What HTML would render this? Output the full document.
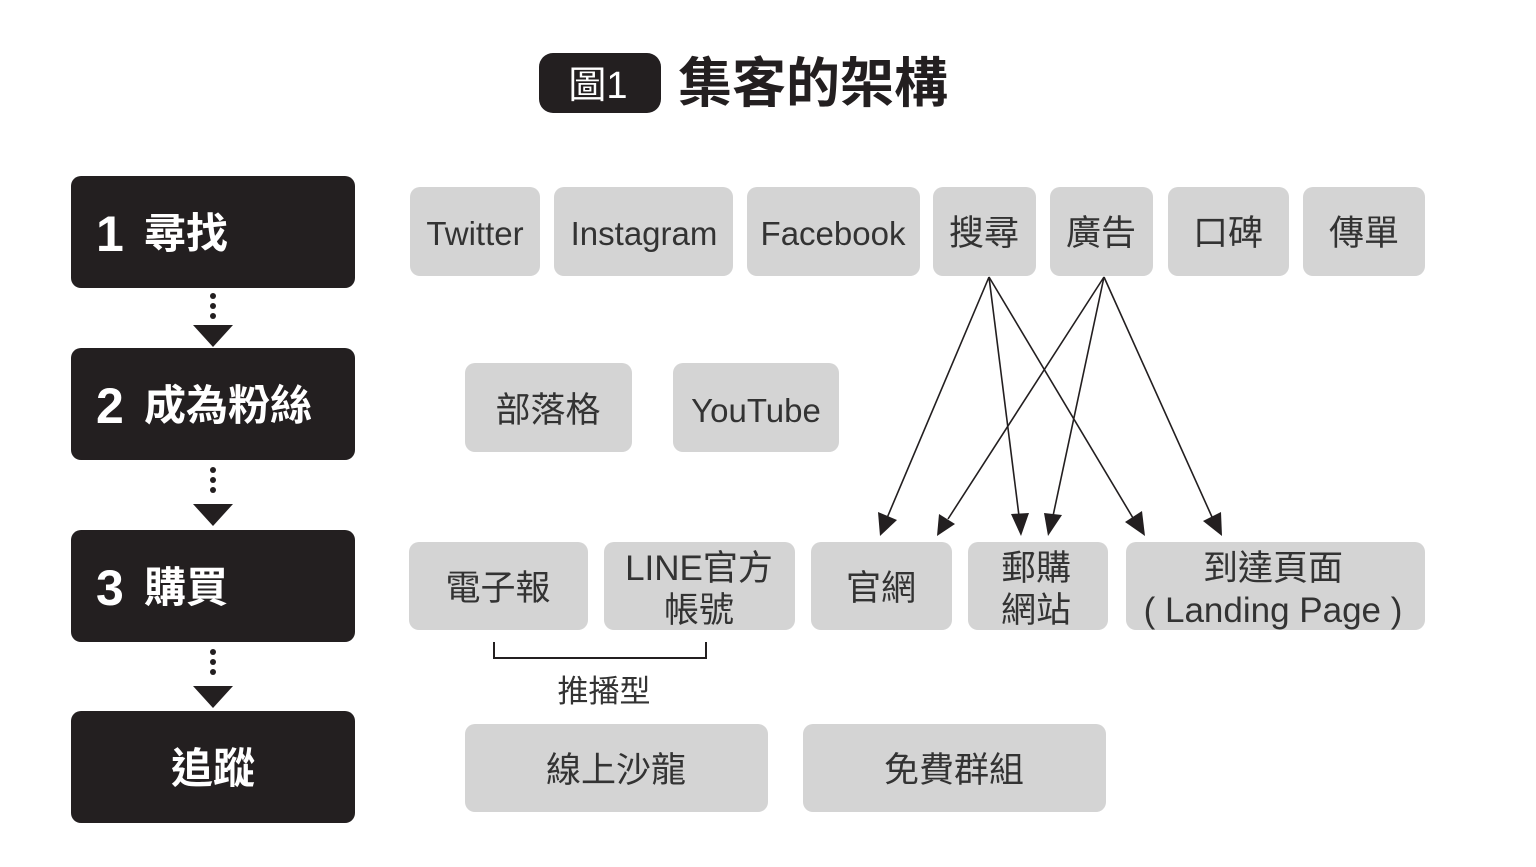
<!DOCTYPE html>
<html><head><meta charset="utf-8"><style>
body{margin:0;background:#fff;}
svg text{font-family:"Liberation Sans","Noto Sans CJK TC",sans-serif;}
</style></head><body>
<svg width="1536" height="862" viewBox="0 0 1536 862" xmlns="http://www.w3.org/2000/svg">
<rect x="539" y="53" width="122" height="60" rx="14" fill="#231f20"/>
<text x="598" y="98" font-size="38" fill="#fff" text-anchor="middle">圖1</text>
<text x="813" y="102" font-size="54" fill="#231f20" text-anchor="middle" font-weight="bold">集客的架構</text>
<g fill="#231f20">
<rect x="71" y="176" width="284" height="112" rx="10"/>
<rect x="71" y="348" width="284" height="112" rx="10"/>
<rect x="71" y="530" width="284" height="112" rx="10"/>
<rect x="71" y="711" width="284" height="112" rx="10"/>
<circle cx="213" cy="296" r="3"/><circle cx="213" cy="306" r="3"/><circle cx="213" cy="316" r="3"/>
<path d="M193,325 L233,325 L213,347Z"/>
<circle cx="213" cy="470" r="3"/><circle cx="213" cy="480" r="3"/><circle cx="213" cy="490" r="3"/>
<path d="M193,504 L233,504 L213,526Z"/>
<circle cx="213" cy="652" r="3"/><circle cx="213" cy="662" r="3"/><circle cx="213" cy="672" r="3"/>
<path d="M193,686 L233,686 L213,708Z"/>
</g>
<g fill="#fff" font-weight="bold">
<text x="96" y="251" font-size="50">1</text><text x="144" y="248" font-size="42">尋找</text>
<text x="96" y="423" font-size="50">2</text><text x="144" y="420" font-size="42">成為粉絲</text>
<text x="96" y="605" font-size="50">3</text><text x="144" y="602" font-size="42">購買</text>
<text x="213" y="783" text-anchor="middle" font-size="42">追蹤</text>
</g>
<g fill="#d4d4d4">
<rect x="410" y="187" width="130" height="89" rx="10"/>
<rect x="554" y="187" width="179" height="89" rx="10"/>
<rect x="747" y="187" width="173" height="89" rx="10"/>
<rect x="933" y="187" width="103" height="89" rx="10"/>
<rect x="1050" y="187" width="103" height="89" rx="10"/>
<rect x="1168" y="187" width="121" height="89" rx="10"/>
<rect x="1303" y="187" width="122" height="89" rx="10"/>
<rect x="465" y="363" width="167" height="89" rx="10"/>
<rect x="673" y="363" width="166" height="89" rx="10"/>
<rect x="409" y="542" width="179" height="88" rx="10"/>
<rect x="604" y="542" width="191" height="88" rx="10"/>
<rect x="811" y="542" width="141" height="88" rx="10"/>
<rect x="968" y="542" width="140" height="88" rx="10"/>
<rect x="1126" y="542" width="299" height="88" rx="10"/>
<rect x="465" y="724" width="303" height="88" rx="10"/>
<rect x="803" y="724" width="303" height="88" rx="10"/>
</g>
<g fill="#333" font-size="35" text-anchor="middle">
<text x="475" y="245" font-size="33">Twitter</text>
<text x="644" y="245" font-size="33">Instagram</text>
<text x="833" y="245" font-size="33">Facebook</text>
<text x="984" y="245">搜尋</text>
<text x="1101" y="245">廣告</text>
<text x="1228" y="245">口碑</text>
<text x="1364" y="245">傳單</text>
<text x="548" y="422">部落格</text>
<text x="756" y="422" font-size="33">YouTube</text>
<text x="498" y="600">電子報</text>
<text x="699" y="580">LINE官方</text>
<text x="699" y="622">帳號</text>
<text x="881" y="600">官網</text>
<text x="1036" y="580">郵購</text>
<text x="1036" y="622">網站</text>
<text x="1273" y="580">到達頁面</text>
<text x="1273" y="622">( Landing Page )</text>
<text x="616" y="782">線上沙龍</text>
<text x="954" y="782">免費群組</text>
<text x="604" y="702" font-size="31">推播型</text>
</g>
<path d="M494,642 V658 H706 V642" fill="none" stroke="#231f20" stroke-width="2"/>
<g stroke="#231f20" stroke-width="1.6">
<line x1="989" y1="277" x2="887" y2="518"/>
<line x1="989" y1="277" x2="1019" y2="516"/>
<line x1="989" y1="277" x2="1133" y2="518"/>
<line x1="1104" y1="277" x2="948" y2="519"/>
<line x1="1104" y1="277" x2="1053" y2="516"/>
<line x1="1104" y1="277" x2="1212" y2="517"/>
</g>
<g fill="#231f20">
<path d="M880,536 L878,512 L897,520Z"/>
<path d="M1021,536 L1011,514 L1029,513Z"/>
<path d="M1145,536 L1125,522 L1142,511Z"/>
<path d="M937,536 L939,514 L955,524Z"/>
<path d="M1048,536 L1044,513 L1062,515Z"/>
<path d="M1222,536 L1203,521 L1221,512Z"/>
</g>
</svg>
</body></html>
